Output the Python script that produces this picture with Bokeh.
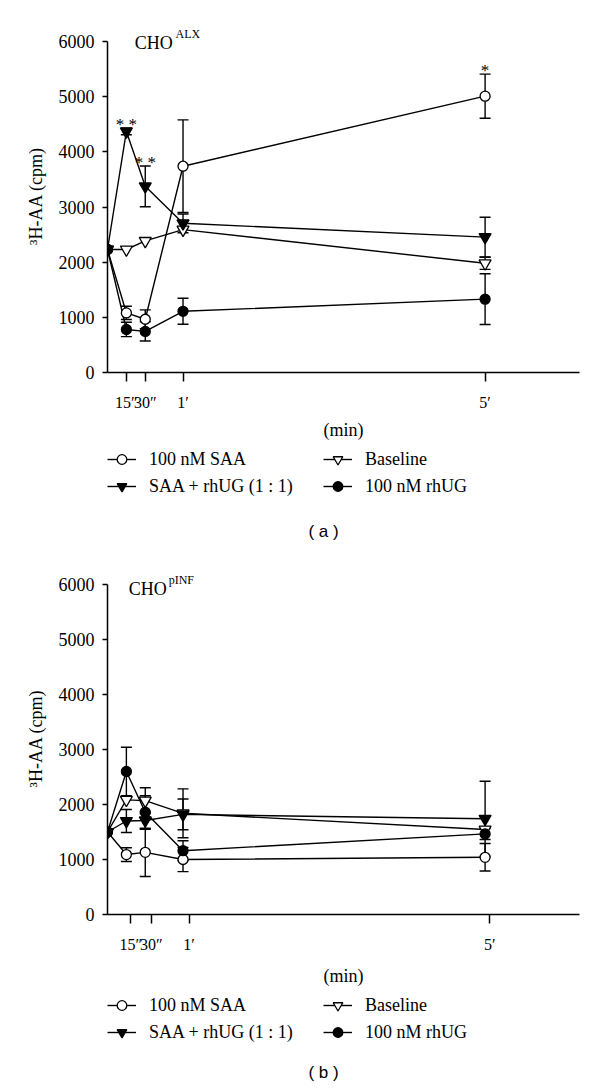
from bokeh.plotting import figure
from bokeh.models import (Range1d, FixedTicker, Whisker, TeeHead, ColumnDataSource,
                          Legend, LegendItem, Label)
from bokeh.layouts import column
from bokeh.embed import file_html
from bokeh.resources import INLINE

# ---------------- data ----------------
times = [0, 0.25, 0.5, 1, 5]
tick_labels = ["15″", "30″", "1′", "5′"]
series_names = ["100 nM SAA", "Baseline", "SAA + rhUG (1 : 1)", "100 nM rhUG"]
y_ticks = [0, 1000, 2000, 3000, 4000, 5000, 6000]

# panel (a) CHO-ALX
saa_a = [2230, 1080, 965, 3740, 5010]
saa_a_err = [0, 120, 170, 840, 400]
base_a = [2230, 2230, 2385, 2590, 1980]
base_a_err = [0, 0, 0, 0, 110]
mix_a = [2230, 4370, 3375, 2705, 2455]
mix_a_err = [0, 60, 370, 170, 360]
rhug_a = [2230, 780, 745, 1110, 1330]
rhug_a_err = [0, 130, 175, 235, 460]

# panel (b) CHO-pINF
saa_b = [1500, 1090, 1130, 1000, 1040]
saa_b_err = [0, 125, 440, 220, 250]
base_b = [1500, 2085, 2070, 1840, 1545]
base_b_err = [0, 0, 235, 445, 0]
mix_b = [1500, 1700, 1710, 1820, 1740]
mix_b_err = [0, 210, 160, 280, 684]
rhug_b = [1500, 2600, 1860, 1160, 1465]
rhug_b_err = [0, 440, 300, 180, 100]

stars_a = [("* *", 0.25, 4490), ("* *", 0.5, 3805), ("*", 5, 5470)]

SERIF = "Liberation Serif"
SANS = "Liberation Sans"
LW = 1.4
W = 600
LEFT = 107
RIGHT = 21

styles = {
    "100 nM SAA": ("circle", "white"),
    "Baseline": ("inverted_triangle", "white"),
    "SAA + rhUG (1 : 1)": ("inverted_triangle", "black"),
    "100 nM rhUG": ("circle", "black"),
}


def main_panel(series, title_main, title_sup, title_pos, sup_pos, ticks, stars,
               top, frame_h, height, label_standoff):
    p = figure(width=W, height=height, output_backend="svg", toolbar_location=None,
               x_range=Range1d(0, 6.25), y_range=Range1d(0, 6400),
               min_border_left=LEFT, min_border_right=RIGHT,
               min_border_top=top, min_border_bottom=height - top - frame_h)
    p.outline_line_color = None
    p.xgrid.visible = False
    p.ygrid.visible = False

    p.xaxis.ticker = FixedTicker(ticks=ticks)
    p.xaxis.major_label_overrides = {t: l for t, l in zip(ticks, tick_labels)}
    p.xaxis.axis_label = "(min)"
    p.yaxis.ticker = FixedTicker(ticks=y_ticks)
    p.yaxis.bounds = (0, 6000)
    p.yaxis.axis_label = "³H-AA (cpm)"
    for ax in (p.xaxis[0], p.yaxis[0]):
        ax.axis_line_width = 1.5
        ax.axis_line_color = "black"
        ax.major_tick_line_width = 1.5
        ax.major_tick_line_color = "black"
        ax.minor_tick_line_color = None
        ax.major_tick_in = 0
        ax.major_label_text_font = SERIF
        ax.major_label_text_font_size = "18px"
        ax.major_label_text_color = "black"
        ax.axis_label_text_font = SERIF
        ax.axis_label_text_font_size = "18px"
        ax.axis_label_text_font_style = "normal"
        ax.axis_label_text_color = "black"
    p.xaxis.major_label_text_font_size = "16px"
    p.xaxis.major_tick_out = 9
    p.xaxis.major_label_standoff = 12
    p.xaxis.axis_label_standoff = label_standoff
    p.yaxis.major_tick_out = 5
    p.yaxis.major_label_standoff = 8
    p.yaxis.axis_label_standoff = 10

    for (name, vals, errs) in series:
        b = [t for t, e in zip(times, errs) if e > 0]
        up = [v + e for v, e in zip(vals, errs) if e > 0]
        lo = [v - e for v, e in zip(vals, errs) if e > 0]
        src = ColumnDataSource(dict(base=b, upper=up, lower=lo))
        p.add_layout(Whisker(source=src, base="base", upper="upper", lower="lower",
                             dimension="height", line_color="black", line_width=LW,
                             upper_head=TeeHead(size=11, line_width=LW, line_color="black"),
                             lower_head=TeeHead(size=11, line_width=LW, line_color="black")))
    for (name, vals, errs) in series:
        p.line(times, vals, line_color="black", line_width=LW)
    for (name, vals, errs) in series:
        marker, fill = styles[name]
        size = 10 if marker == "circle" else 12
        p.scatter(times, vals, marker=marker, size=size, fill_color=fill,
                  line_color="black", line_width=1.3)

    p.add_layout(Label(x=title_pos[0], y=title_pos[1], text=title_main,
                       text_font=SERIF, text_font_size="18px", text_color="black",
                       text_baseline="alphabetic"))
    p.add_layout(Label(x=sup_pos[0], y=sup_pos[1], text=title_sup,
                       text_font=SERIF, text_font_size="12px", text_color="black",
                       text_baseline="alphabetic"))
    for (txt, x, y) in stars:
        p.add_layout(Label(x=x, y=y, text=txt, text_font=SERIF, text_font_size="17px",
                           text_color="black", text_align="center",
                           text_baseline="middle"))
    return p


def legend_panel(height, legend_y, panel_label, label_y):
    # x range in page pixels across the (column-aligned) frame
    p = figure(width=W, height=height, output_backend="svg", toolbar_location=None,
               x_range=Range1d(LEFT, W - RIGHT), y_range=Range1d(0, height),
               x_axis_location=None, y_axis_location=None,
               min_border_left=LEFT, min_border_right=RIGHT,
               min_border_top=0, min_border_bottom=0)
    p.outline_line_color = None
    p.xgrid.visible = False
    p.ygrid.visible = False
    nan = float("nan")
    rend = {}
    for name in series_names:
        marker, fill = styles[name]
        ln = p.line(x=[nan], y=[nan], line_color="black", line_width=LW)
        sc = p.scatter(x=[nan], y=[nan], marker=marker, fill_color=fill,
                       line_color="black", line_width=1.3)
        rend[name] = [ln, sc]
    cols = [(series_names[0], series_names[2]), (series_names[1], series_names[3])]
    for lx, names in zip((0, 216), cols):
        lg = Legend(items=[LegendItem(label=n, renderers=rend[n]) for n in names],
                    location=(lx, legend_y), orientation="vertical",
                    glyph_width=29, glyph_height=24, label_height=24,
                    label_standoff=13, spacing=3, padding=0, margin=0,
                    border_line_color=None, background_fill_alpha=0,
                    label_text_font=SERIF, label_text_font_size="18px",
                    label_text_color="black")
        p.add_layout(lg, "center")
    p.add_layout(Label(x=323, y=label_y, text=panel_label, text_font=SANS,
                       text_font_size="17px", text_color="black",
                       text_align="center", text_baseline="middle"))
    return p


series_a = [
    ("100 nM SAA", saa_a, saa_a_err),
    ("Baseline", base_a, base_a_err),
    ("SAA + rhUG (1 : 1)", mix_a, mix_a_err),
    ("100 nM rhUG", rhug_a, rhug_a_err),
]
series_b = [
    ("100 nM SAA", saa_b, saa_b_err),
    ("Baseline", base_b, base_b_err),
    ("SAA + rhUG (1 : 1)", mix_b, mix_b_err),
    ("100 nM rhUG", rhug_b, rhug_b_err),
]

pa = main_panel(series_a, "CHO", "ALX", (0.36, 5980), (0.90, 6140),
                [0.25, 0.5, 1, 5], stars_a,
                top=19, frame_h=353, height=447, label_standoff=6)
la = legend_panel(97, 46, "( a )", 13)
pb = main_panel(series_b, "CHO", "pINF", (0.28, 5910), (0.81, 6080),
                [0.31, 0.58, 1.08, 5.06], [],
                top=18, frame_h=352, height=449, label_standoff=10)
lb = legend_panel(96, 45, "( b )", 17)

layout = column(pa, la, pb, lb, spacing=0)
open("out.html", "w").write(file_html(layout, INLINE))
